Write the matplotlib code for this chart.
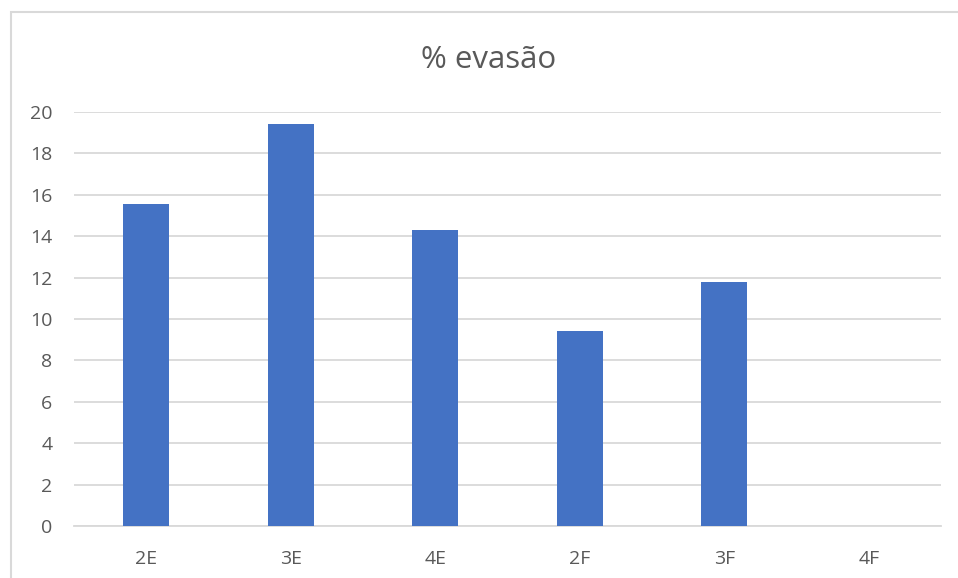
import matplotlib
matplotlib.use('Agg')
import matplotlib.pyplot as plt
from matplotlib.patches import Rectangle

plt.rcParams['font.family'] = ['Open Sans', 'DejaVu Sans']

# data
turmas = ['2E', '3E', '4E', '2F', '3F', '4F']
evasao = [15.57, 19.42, 14.31, 9.40, 11.81, 0.0]
yticks = list(range(0, 21, 2))

bar_color = '#4472C4'
text_color = '#595959'
grid_color = '#D9D9D9'

fig = plt.figure(figsize=(9.58, 5.78), dpi=100)
ax = fig.add_axes([74 / 958, 1 - 526 / 578, (941 - 74) / 958, (526 - 112) / 578])

x = range(len(turmas))
ax.bar(x, evasao, width=0.318, color=bar_color, zorder=3)

ax.set_xlim(-0.5, len(turmas) - 0.5)
ax.set_ylim(0, 20)
ax.set_yticks(yticks)
ax.set_xticks(list(x))
ax.set_xticklabels(turmas)

# horizontal gridlines like Excel
ax.yaxis.grid(True, color=grid_color, linewidth=1.3, zorder=0)
ax.set_axisbelow(True)
for s in ['top', 'right', 'left']:
    ax.spines[s].set_visible(False)
ax.spines['bottom'].set_color(grid_color)
ax.spines['bottom'].set_linewidth(1.3)
# pads are in points (0.72 pt per pixel at 100 dpi)
ax.tick_params(axis='both', length=0, labelsize=14, colors=text_color)
ax.tick_params(axis='y', pad=15.5)
ax.tick_params(axis='x', pad=17)

fig.text(0.51, 1 - 60 / 578, '% evasão', ha='center', va='center',
         fontsize=22.5, color=text_color)

# chart area border (left and top visible, rest cut off)
fig.add_artist(Rectangle((10.5 / 958, -0.1), 1.2, 1.1 - 12.5 / 578,
                         transform=fig.transFigure, fill=False,
                         edgecolor=grid_color, linewidth=1.5))

fig.savefig('out.png', dpi=100)
